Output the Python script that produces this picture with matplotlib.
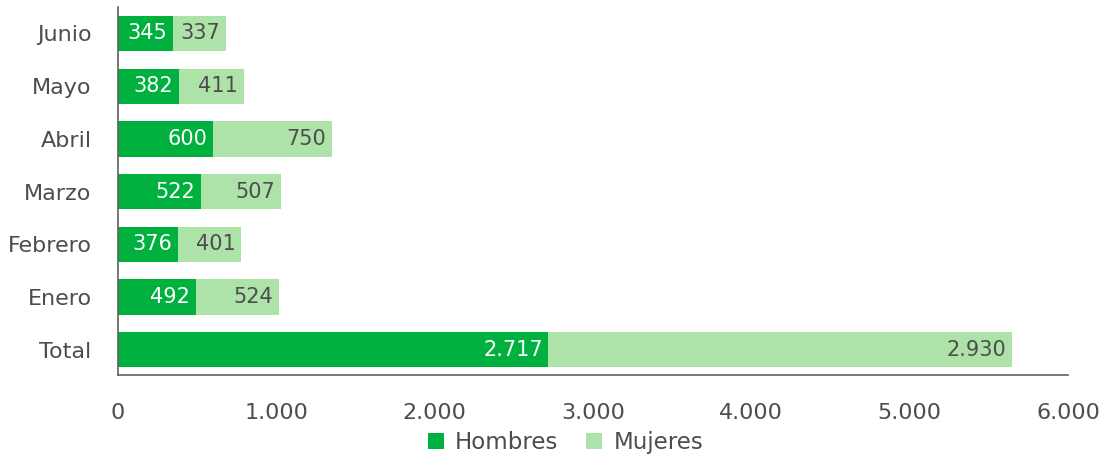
import matplotlib
matplotlib.use("Agg")
import matplotlib.pyplot as plt
from matplotlib.ticker import FuncFormatter

categories = ["Total", "Enero", "Febrero", "Marzo", "Abril", "Mayo", "Junio"]
hombres = [2717, 492, 376, 522, 600, 382, 345]
mujeres = [2930, 524, 401, 507, 750, 411, 337]
xticks = [0, 1000, 2000, 3000, 4000, 5000, 6000]

plt.rcParams['font.family'] = ['DejaVu Sans']
dark = "#00B140"
light = "#ADE3A8"
txt = "#4D4D4D"

fig = plt.figure(figsize=(11.02, 4.57), dpi=100)
ax = fig.add_axes([0.1071, 0.1794, 0.862, 0.805])

def fmt(v):
    return f"{int(v):,}".replace(",", ".")

y = list(range(len(categories)))
b1 = ax.barh(y, hombres, height=0.67, color=dark, label="Hombres")
b2 = ax.barh(y, mujeres, left=hombres, height=0.67, color=light, label="Mujeres")
for i, (h, m) in enumerate(zip(hombres, mujeres)):
    ax.annotate(fmt(h), (h, i), xytext=(-4, 0), textcoords='offset points',
                ha='right', va='center', color='white', fontsize=15)
    ax.annotate(fmt(m), (h + m, i), xytext=(-4, 0), textcoords='offset points',
                ha='right', va='center', color=txt, fontsize=15)

ax.set_xlim(0, 6000)
ax.set_ylim(-0.48, 6.5)
ax.set_yticks(y)
ax.set_yticklabels(categories)
ax.set_xticks(xticks)
ax.xaxis.set_major_formatter(FuncFormatter(lambda v, p: fmt(v)))
ax.tick_params(axis='both', length=0, labelsize=16, colors=txt)
ax.tick_params(axis='x', pad=20)
ax.tick_params(axis='y', pad=19)
for s in ['top', 'right']:
    ax.spines[s].set_visible(False)
for s in ['left', 'bottom']:
    ax.spines[s].set_color("#606060")
    ax.spines[s].set_linewidth(1.2)

fig.legend(handles=[b1, b2], loc='center', bbox_to_anchor=(0.513, 0.031), ncol=2,
           frameon=False, fontsize=16.5, handlelength=0.7, handleheight=0.7,
           columnspacing=1.2, handletextpad=0.5, labelcolor=txt, borderpad=0)

fig.savefig("out.png", dpi=100)
